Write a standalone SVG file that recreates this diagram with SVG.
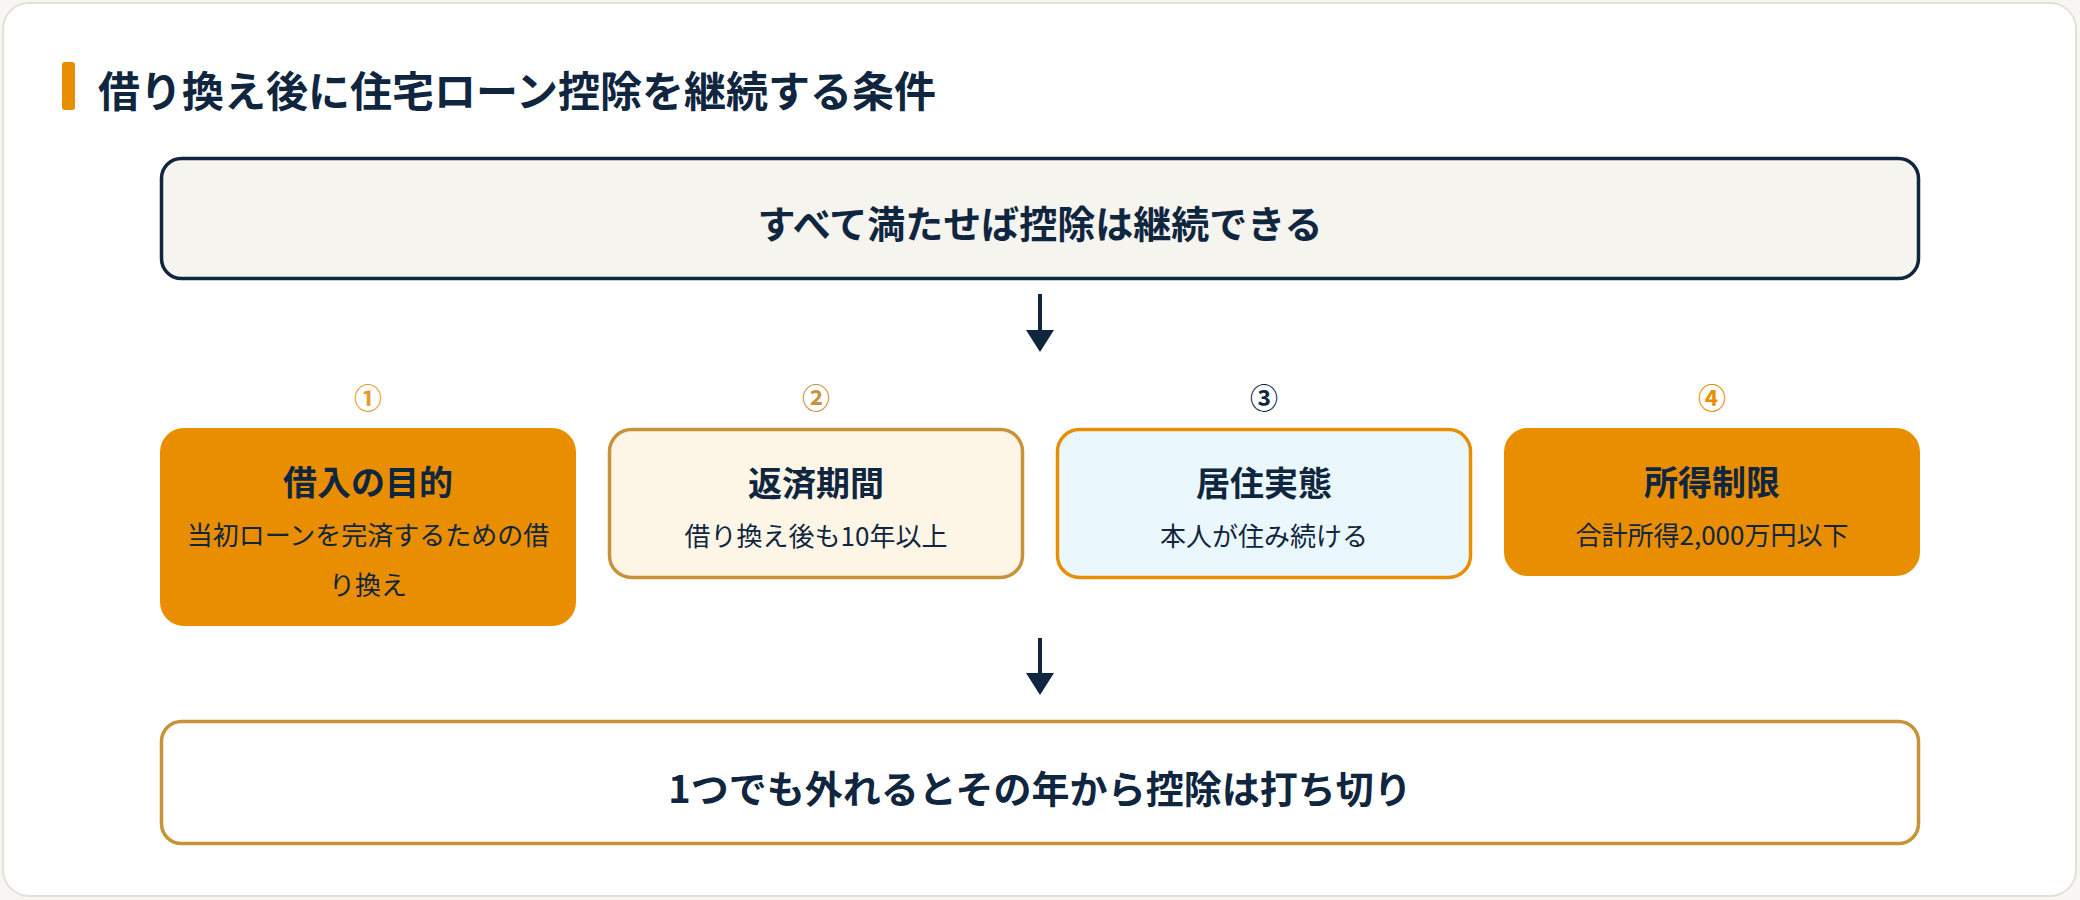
<svg xmlns="http://www.w3.org/2000/svg" width="2080" height="900" viewBox="0 0 2080 900">
<style>
text{font-family:"Noto Sans CJK JP","Noto Sans",sans-serif;fill:#10263f;text-anchor:middle;dominant-baseline:central}
.h{font-size:42px;font-weight:700;text-anchor:start}
.big{font-size:38px;font-weight:700}
.t{font-size:34px;font-weight:700}
.s{font-size:26px;font-weight:400}
.n{font-size:28px;font-weight:700}
.conn{stroke:#10263f;stroke-width:4;fill:none}
</style>
<defs>
<marker id="ah" markerWidth="24" markerHeight="28" refX="5" refY="14" orient="auto" markerUnits="userSpaceOnUse">
<path d="M0,0 L22,14 L0,28 Z" fill="#10263f"/>
</marker>
</defs>
<rect x="0" y="0" width="2080" height="900" fill="#f7f6f2"/>
<rect x="3" y="3" width="2073" height="893" rx="26" fill="#ffffff" stroke="#e3e1d7" stroke-width="2"/>
<g id="title">
<rect x="62" y="62" width="13" height="48" rx="3" fill="#e88e00"/>
<text class="h" x="98" y="88">借り換え後に住宅ローン控除を継続する条件</text>
</g>
<g id="top">
<rect x="161.5" y="158.5" width="1757" height="120" rx="20" fill="#f5f4ef" stroke="#10263f" stroke-width="3.5"/>
<text class="big" x="1040" y="221">すべて満たせば控除は継続できる</text>
</g>
<g id="connectors">
<line class="conn" x1="1040" y1="294" x2="1040" y2="335" marker-end="url(#ah)"/>
<line class="conn" x1="1040" y1="638" x2="1040" y2="678" marker-end="url(#ah)"/>
</g>
<g id="n1">
<text class="n" x="368" y="397" style="fill:#e8992a">①</text>
<rect x="160" y="428" width="416" height="198" rx="24" fill="#e88e00"/>
<text class="t" x="368" y="480">借入の目的</text>
<text class="s" x="368" y="533">当初ローンを完済するための借</text>
<text class="s" x="368" y="583">り換え</text>
</g>
<g id="n2">
<text class="n" x="816" y="397" style="fill:#c8923a">②</text>
<rect x="609.5" y="429.5" width="413" height="148" rx="22" fill="#fdf6e7" stroke="#c8923a" stroke-width="3.5"/>
<text class="t" x="816" y="481">返済期間</text>
<text class="s" x="816" y="534">借り換え後も10年以上</text>
</g>
<g id="n3">
<text class="n" x="1264" y="397">③</text>
<rect x="1057.5" y="429.5" width="413" height="148" rx="22" fill="#eaf8fd" stroke="#e88e00" stroke-width="3.5"/>
<text class="t" x="1264" y="481">居住実態</text>
<text class="s" x="1264" y="534">本人が住み続ける</text>
</g>
<g id="n4">
<text class="n" x="1712" y="397" style="fill:#e88e00">④</text>
<rect x="1504" y="428" width="416" height="148" rx="24" fill="#e88e00"/>
<text class="t" x="1712" y="480">所得制限</text>
<text class="s" x="1712" y="533">合計所得2,000万円以下</text>
</g>
<g id="bottom">
<rect x="161.5" y="721.5" width="1757" height="122" rx="20" fill="#ffffff" stroke="#c8923a" stroke-width="3.5"/>
<text class="big" x="1040" y="786">1つでも外れるとその年から控除は打ち切り</text>
</g>
</svg>
